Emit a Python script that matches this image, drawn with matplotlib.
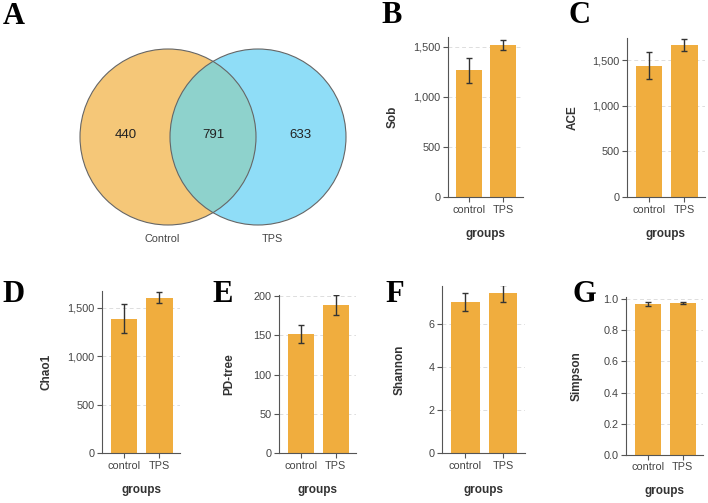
import matplotlib
matplotlib.use("Agg")
import matplotlib.pyplot as plt
from matplotlib.patches import Circle
from matplotlib.ticker import FuncFormatter

# ---------------- data ----------------
groups = ["control", "TPS"]
venn_labels = ["Control", "TPS"]
venn_only_control = 440
venn_shared = 791
venn_only_tps = 633

sob_mean = [1265, 1520]
sob_err = [122, 52]
ace_mean = [1441, 1668]
ace_err = [148, 62]
chao1_mean = [1386, 1603]
chao1_err = [150, 55]
pd_mean = [152, 189]
pd_err = [11.5, 13]
shannon_mean = [7.02, 7.41]
shannon_err = [0.42, 0.40]
simpson_mean = [0.970, 0.976]
simpson_err = [0.012, 0.008]

# ---------------- style ----------------
W, H = 708, 503
plt.rcParams['font.family'] = ['Liberation Sans', 'DejaVu Sans']
BAR = '#F0AD3E'
TXT = '#444444'
SPINE = '#555555'

fig = plt.figure(figsize=(W / 100, H / 100), dpi=100)
fig.patch.set_facecolor('white')


def rect(l, r, t, b):
    return [l / W, 1 - b / H, (r - l) / W, (b - t) / H]


def letter(s, x, y):
    fig.text(x / W, 1 - y / H, s, fontsize=22, fontweight='bold',
             family='Liberation Serif', ha='left', va='baseline', color='black')


# ---------------- Venn ----------------
vax = fig.add_axes(rect(0, 380, 0, 250))
vax.set_xlim(0, 380)
vax.set_ylim(250, 0)
vax.axis('off')
r = 88
cL = (168, 137)
cR = (258, 137)
vax.add_patch(Circle(cL, r, facecolor='#F5C778', edgecolor='none', zorder=1))
vax.add_patch(Circle(cR, r, facecolor='#8FDDF7', edgecolor='none', zorder=1))
clipc = Circle(cL, r, transform=vax.transData)
inter = Circle(cR, r, facecolor='#8ED2CC', edgecolor='none', zorder=2)
vax.add_patch(inter)
inter.set_clip_path(clipc)
for c in (cL, cR):
    vax.add_patch(Circle(c, r, facecolor='none', edgecolor='#666666', lw=0.8, zorder=3))
vax.text(126, 135, str(venn_only_control), ha='center', va='center', fontsize=9.5, color='#222222')
vax.text(213, 135, str(venn_shared), ha='center', va='center', fontsize=9.5, color='#222222')
vax.text(300, 135, str(venn_only_tps), ha='center', va='center', fontsize=9.5, color='#222222')
vax.text(162, 239, venn_labels[0], ha='center', va='center', fontsize=7.8, color=TXT)
vax.text(272, 239, venn_labels[1], ha='center', va='center', fontsize=7.8, color=TXT)
letter('A', 3, 24)


# ---------------- bar panels ----------------
def comma(v, pos):
    return f"{int(round(v)):,}"


def panel(box, means, errs, ylabel, ytop, yticks, fmt, ylab_x, lab):
    l, r_, t, b = box
    ax = fig.add_axes(rect(l, r_, t, b))
    ax.bar(range(len(groups)), means, width=0.75, color=BAR, zorder=2)
    ax.errorbar(range(len(groups)), means, yerr=errs, fmt='none', ecolor='#333333',
                elinewidth=1.0, capsize=2.5, capthick=1.0, zorder=3)
    ax.set_xlim(-0.62, 1.58)
    ax.set_ylim(0, ytop)
    ax.set_yticks(yticks)
    ax.yaxis.set_major_formatter(FuncFormatter(fmt))
    ax.set_xticks(range(len(groups)))
    ax.set_xticklabels(groups)
    for s in ('top', 'right'):
        ax.spines[s].set_visible(False)
    for s in ('left', 'bottom'):
        ax.spines[s].set_color(SPINE)
        ax.spines[s].set_linewidth(0.8)
    ax.tick_params(axis='both', colors=SPINE, labelcolor=TXT, labelsize=7.8,
                   length=3.5, width=0.8, pad=2)
    for yv in yticks[1:]:
        ax.axhline(yv, color='#dddddd', lw=0.7, ls=(0, (4, 3)), zorder=1)
    ax.set_ylabel(ylabel, fontsize=8.5, fontweight='bold', color='#333333')
    ax.yaxis.set_label_coords((ylab_x - l) / (r_ - l), 0.5)
    ax.set_xlabel('groups', fontsize=8.5, fontweight='bold', color='#333333')
    ax.xaxis.set_label_coords(0.5, -36.5 / (b - t))
    ax.xaxis.label.set_va('center')
    ax.yaxis.label.set_va('center')
    letter(*lab)
    return ax


panel((448, 523, 37, 197), sob_mean, sob_err, 'Sob', 1600,
      [0, 500, 1000, 1500], comma, 392.5, ('B', 381, 23))
panel((627, 705, 38, 197), ace_mean, ace_err, 'ACE', 1745,
      [0, 500, 1000, 1500], comma, 573, ('C', 568, 23))
panel((102, 180, 290.7, 453), chao1_mean, chao1_err, 'Chao1', 1675,
      [0, 500, 1000, 1500], comma, 47, ('D', 2, 302))
panel((279, 356, 295, 453.3), pd_mean, pd_err, 'PD-tree', 201.5,
      [0, 50, 100, 150, 200], lambda v, p: f"{int(v)}", 229, ('E', 212, 302))
panel((442, 525, 286, 453.3), shannon_mean, shannon_err, 'Shannon', 7.75,
      [0, 2, 4, 6], lambda v, p: f"{int(v)}", 400, ('F', 385, 302))
panel((626, 703, 296.7, 454.7), simpson_mean, simpson_err, 'Simpson', 1.017,
      [0, 0.2, 0.4, 0.6, 0.8, 1.0], lambda v, p: f"{v:.1f}", 577, ('G', 573, 302))

fig.savefig('out.png', dpi=100, facecolor='white')
